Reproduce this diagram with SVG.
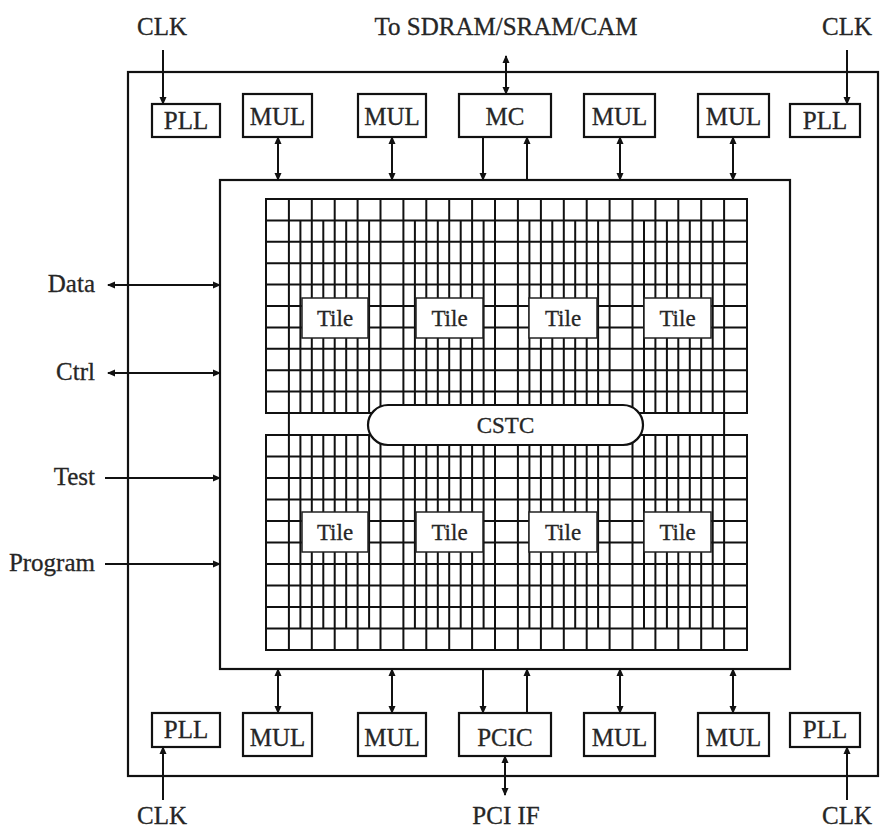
<svg xmlns="http://www.w3.org/2000/svg" width="880" height="830" viewBox="0 0 880 830">
<style>
.t{font-family:"Liberation Serif","Times New Roman",serif;font-size:25px;fill:#262626;text-anchor:middle;stroke:#262626;stroke-width:0.3}
.l{font-family:"Liberation Serif","Times New Roman",serif;font-size:25px;fill:#262626;text-anchor:end;stroke:#262626;stroke-width:0.3}
.s{font-size:23px}
.box{fill:#fff;stroke:#111;stroke-width:2.2}
.tile{fill:#fff;stroke:#222;stroke-width:1.5}
.c{stroke:#111;stroke-width:2;fill:none}
.g{stroke:#111;stroke-width:2;fill:none}
</style>
<defs>
<marker id="ah" viewBox="0 0 8 8" refX="7" refY="4" markerWidth="8" markerHeight="8" markerUnits="userSpaceOnUse" orient="auto-start-reverse">
<path d="M0,0.5 L8,4 L0,7.5 z" fill="#111"/>
</marker>
</defs>
<rect width="880" height="830" fill="#fff"/>

<g id="chip"><rect x="128" y="72" width="750" height="704" fill="none" stroke="#111" stroke-width="2.2"/></g>
<g id="array"><rect x="220" y="180" width="570" height="489" fill="none" stroke="#111" stroke-width="2.2"/></g>

<g id="grid-upper">
<rect x="266" y="199" width="481" height="214" class="g"/>
<path class="g" d="M266,220.4H747M266,241.8H747M266,263.2H747M266,284.6H747M266,306H747M266,327.4H747M266,348.8H747M266,370.2H747M266,391.6H747
M288.9,199V413M311.8,199V413M334.7,199V413M357.6,199V413M380.5,199V413M403.4,199V413M426.3,199V413M449.2,199V413M472.1,199V413M495,199V413M517.9,199V413M540.9,199V413M563.8,199V413M586.7,199V413M609.6,199V413M632.5,199V413M655.4,199V413M678.3,199V413M701.2,199V413M724.1,199V413
M300.4,220.4V413M323.3,220.4V413M346.2,220.4V413M369.1,220.4V413M414.9,220.4V413M437.8,220.4V413M460.7,220.4V413M483.6,220.4V413M529.4,220.4V413M552.3,220.4V413M575.2,220.4V413M598.1,220.4V413M644,220.4V413M666.9,220.4V413M689.8,220.4V413M712.7,220.4V413"/>
</g>
<g id="grid-lower">
<rect x="266" y="435" width="481" height="215" class="g"/>
<path class="g" d="M266,456.5H747M266,478H747M266,499.5H747M266,521H747M266,542.5H747M266,564H747M266,585.5H747M266,607H747M266,628.5H747
M288.9,435V650M311.8,435V650M334.7,435V650M357.6,435V650M380.5,435V650M403.4,435V650M426.3,435V650M449.2,435V650M472.1,435V650M495,435V650M517.9,435V650M540.9,435V650M563.8,435V650M586.7,435V650M609.6,435V650M632.5,435V650M655.4,435V650M678.3,435V650M701.2,435V650M724.1,435V650
M300.4,435V628.5M323.3,435V628.5M346.2,435V628.5M369.1,435V628.5M414.9,435V628.5M437.8,435V628.5M460.7,435V628.5M483.6,435V628.5M529.4,435V628.5M552.3,435V628.5M575.2,435V628.5M598.1,435V628.5M644,435V628.5M666.9,435V628.5M689.8,435V628.5M712.7,435V628.5"/>
<path class="g" d="M288.9,413V435M724.1,413V435"/>
</g>

<g id="tile1"><rect class="tile" x="302" y="298" width="66" height="40"/><text class="t s" x="335" y="326">Tile</text></g>
<g id="tile2"><rect class="tile" x="416" y="298" width="67" height="40"/><text class="t s" x="449.5" y="326">Tile</text></g>
<g id="tile3"><rect class="tile" x="529" y="298" width="68" height="40"/><text class="t s" x="563" y="326">Tile</text></g>
<g id="tile4"><rect class="tile" x="644" y="298" width="67" height="40"/><text class="t s" x="677.5" y="326">Tile</text></g>
<g id="tile5"><rect class="tile" x="302" y="512" width="66" height="40"/><text class="t s" x="335" y="540">Tile</text></g>
<g id="tile6"><rect class="tile" x="416" y="512" width="67" height="40"/><text class="t s" x="449.5" y="540">Tile</text></g>
<g id="tile7"><rect class="tile" x="529" y="512" width="68" height="40"/><text class="t s" x="563" y="540">Tile</text></g>
<g id="tile8"><rect class="tile" x="644" y="512" width="67" height="40"/><text class="t s" x="677.5" y="540">Tile</text></g>

<g id="cstc"><rect x="368" y="405" width="275" height="40" rx="20" ry="20" fill="#fff" stroke="#111" stroke-width="2.2"/><text class="t s" x="505.5" y="433">CSTC</text></g>

<g id="pll-tl"><rect class="box" x="152" y="104" width="68" height="33"/><text class="t" x="186" y="129">PLL</text></g>
<g id="mul-t1"><rect class="box" x="243" y="94" width="69" height="43"/><text class="t" x="277.5" y="125">MUL</text></g>
<g id="mul-t2"><rect class="box" x="358" y="94" width="68" height="43"/><text class="t" x="392" y="125">MUL</text></g>
<g id="mc"><rect class="box" x="459" y="94" width="92" height="43"/><text class="t" x="505" y="125">MC</text></g>
<g id="mul-t3"><rect class="box" x="584" y="94" width="71" height="43"/><text class="t" x="619.5" y="125">MUL</text></g>
<g id="mul-t4"><rect class="box" x="698" y="94" width="71" height="43"/><text class="t" x="733.5" y="125">MUL</text></g>
<g id="pll-tr"><rect class="box" x="790" y="104" width="70" height="33"/><text class="t" x="825" y="129">PLL</text></g>

<g id="pll-bl"><rect class="box" x="152" y="713" width="68" height="34"/><text class="t" x="186" y="738">PLL</text></g>
<g id="mul-b1"><rect class="box" x="243" y="713" width="69" height="43"/><text class="t" x="277.5" y="746">MUL</text></g>
<g id="mul-b2"><rect class="box" x="358" y="713" width="68" height="43"/><text class="t" x="392" y="746">MUL</text></g>
<g id="pcic"><rect class="box" x="459" y="713" width="92" height="43"/><text class="t" x="505" y="746">PCIC</text></g>
<g id="mul-b3"><rect class="box" x="584" y="713" width="71" height="43"/><text class="t" x="619.5" y="746">MUL</text></g>
<g id="mul-b4"><rect class="box" x="698" y="713" width="71" height="43"/><text class="t" x="733.5" y="746">MUL</text></g>
<g id="pll-br"><rect class="box" x="790" y="713" width="70" height="34"/><text class="t" x="825" y="738">PLL</text></g>

<g id="labels">
<text class="t" x="162" y="35">CLK</text>
<text class="t" x="506" y="35">To SDRAM/SRAM/CAM</text>
<text class="t" x="847" y="35">CLK</text>
<text class="t" x="162" y="824">CLK</text>
<text class="t" x="506" y="824">PCI IF</text>
<text class="t" x="847" y="824">CLK</text>
<text class="l" x="95" y="292">Data</text>
<text class="l" x="95" y="380">Ctrl</text>
<text class="l" x="95" y="485">Test</text>
<text class="l" x="95" y="571">Program</text>
</g>

<g id="connectors">
<line class="c" x1="163" y1="50" x2="163" y2="104" marker-end="url(#ah)"/>
<line class="c" x1="847" y1="50" x2="847" y2="104" marker-end="url(#ah)"/>
<line class="c" x1="506" y1="56" x2="506" y2="94" marker-start="url(#ah)" marker-end="url(#ah)"/>
<line class="c" x1="278" y1="137" x2="278" y2="180" marker-start="url(#ah)" marker-end="url(#ah)"/>
<line class="c" x1="392" y1="137" x2="392" y2="180" marker-start="url(#ah)" marker-end="url(#ah)"/>
<line class="c" x1="620" y1="137" x2="620" y2="180" marker-start="url(#ah)" marker-end="url(#ah)"/>
<line class="c" x1="733" y1="137" x2="733" y2="180" marker-start="url(#ah)" marker-end="url(#ah)"/>
<line class="c" x1="483" y1="137" x2="483" y2="180" marker-end="url(#ah)"/>
<line class="c" x1="527" y1="180" x2="527" y2="137" marker-end="url(#ah)"/>
<line class="c" x1="278" y1="669" x2="278" y2="713" marker-start="url(#ah)" marker-end="url(#ah)"/>
<line class="c" x1="392" y1="669" x2="392" y2="713" marker-start="url(#ah)" marker-end="url(#ah)"/>
<line class="c" x1="620" y1="669" x2="620" y2="713" marker-start="url(#ah)" marker-end="url(#ah)"/>
<line class="c" x1="733" y1="669" x2="733" y2="713" marker-start="url(#ah)" marker-end="url(#ah)"/>
<line class="c" x1="483" y1="669" x2="483" y2="713" marker-end="url(#ah)"/>
<line class="c" x1="527" y1="713" x2="527" y2="669" marker-end="url(#ah)"/>
<line class="c" x1="505" y1="756" x2="505" y2="795" marker-start="url(#ah)" marker-end="url(#ah)"/>
<line class="c" x1="163" y1="800" x2="163" y2="747" marker-end="url(#ah)"/>
<line class="c" x1="847" y1="800" x2="847" y2="747" marker-end="url(#ah)"/>
<line class="c" x1="108" y1="285" x2="220" y2="285" marker-start="url(#ah)" marker-end="url(#ah)"/>
<line class="c" x1="108" y1="373" x2="220" y2="373" marker-start="url(#ah)" marker-end="url(#ah)"/>
<line class="c" x1="105" y1="478" x2="220" y2="478" marker-end="url(#ah)"/>
<line class="c" x1="105" y1="564" x2="220" y2="564" marker-end="url(#ah)"/>
</g>
</svg>
